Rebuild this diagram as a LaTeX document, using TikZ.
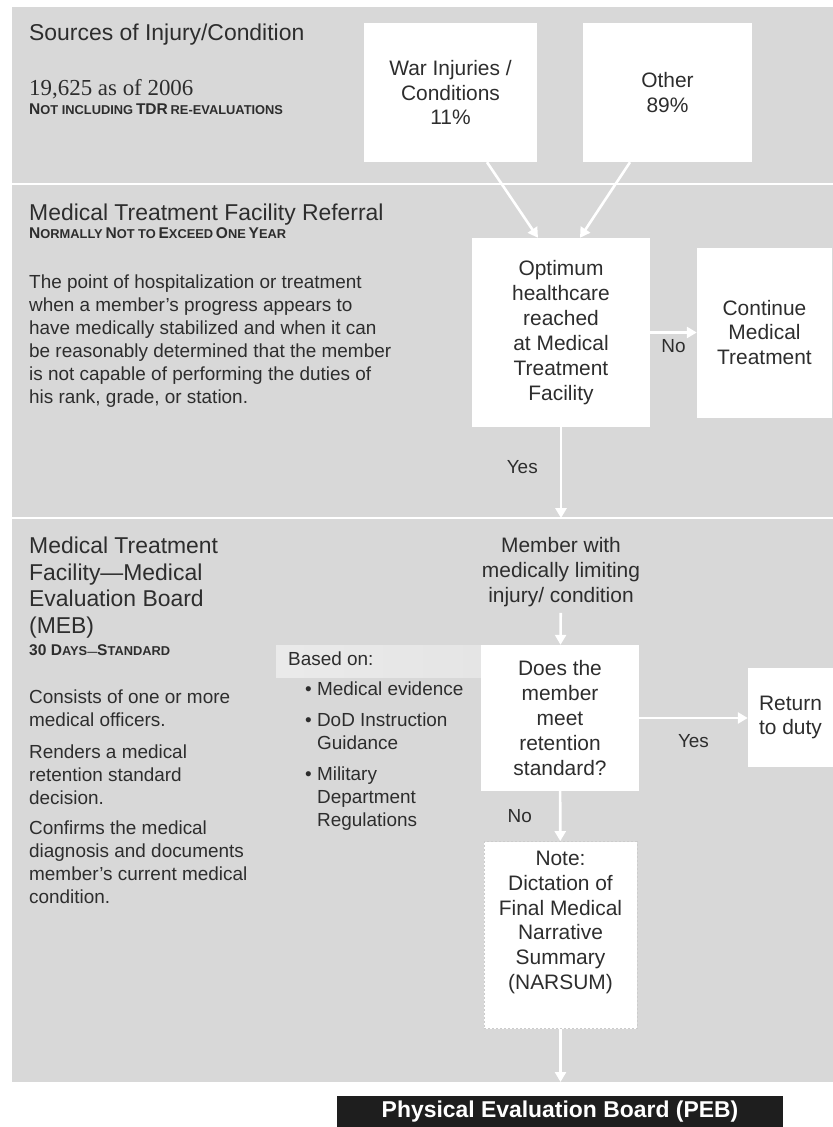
\documentclass[tikz,border=0pt]{standalone}
\usepackage{fontspec}
\setmainfont{Liberation Sans}
\newfontfamily\timesface{Liberation Serif}
\usetikzlibrary{arrows.meta, positioning}
\definecolor{panelgray}{RGB}{216,216,216}
\definecolor{basedgray}{RGB}{229,229,229}
\definecolor{inkgray}{RGB}{45,45,45}
\definecolor{pebblack}{RGB}{30,30,30}
\newcommand{\capL}[1]{{\fontsize{15.6}{17}\selectfont #1}}
\newcommand{\capS}[1]{{\fontsize{12.9}{17}\selectfont #1}}

\begin{document}
\begin{tikzpicture}[x=1bp, y=-1bp,
    box/.style={fill=white, align=center, text=inkgray, font=\fontsize{21}{25}\selectfont, inner sep=0pt},
    notebox/.style={fill=white, draw=gray!40, dash pattern=on 2bp off 2bp, line width=0.8bp},
    heading/.style={anchor=north west, align=left, text=inkgray, inner sep=0pt, font=\fontsize{23}{26.5}\selectfont},
    subhead/.style={anchor=north west, inner sep=0pt, text=inkgray, font=\bfseries},
    para/.style={anchor=north west, align=left, text=inkgray, inner sep=0pt, font=\fontsize{19}{23}\selectfont},
    flow/.style={-{Triangle[length=10bp,width=11bp]}, draw=white, line width=2.6bp},
    lbl/.style={text=inkgray, font=\fontsize{19}{23}\selectfont, inner sep=0pt},
]
\useasboundingbox (0,0) rectangle (833,1127);

% panels
\fill[panelgray] (12,7) rectangle (833,1082);
\draw[white, line width=1.6bp] (12,184) -- (833,184);
\draw[white, line width=1.6bp] (12,518) -- (833,518);
\shade[left color=basedgray!80!white, right color=basedgray] (276,645) rectangle (482,677);

% left column
\node[heading] (srchead) at (29,24) {Sources of Injury/Condition};
\node[anchor=north west, inner sep=0pt, text=inkgray, font=\timesface\fontsize{23}{26}\selectfont] (srccount) at (29,79) {19,625 as of 2006};
\node[subhead] (srcnote) at (29,104) {\capL{N}\capS{OT INCLUDING} \capL{TDR} \capS{RE-EVALUATIONS}};

\node[heading] (reflhead) at (29,204) {Medical Treatment Facility Referral};
\node[subhead] (reflnote) at (29,227) {\capL{N}\capS{ORMALLY} \capL{N}\capS{OT TO} \capL{E}\capS{XCEED} \capL{O}\capS{NE} \capL{Y}\capS{EAR}};
\node[para] (refltext) at (29,275) {The point of hospitalization or treatment\\when a member’s progress appears to\\have medically stabilized and when it can\\be reasonably determined that the member\\is not capable of performing the duties of\\his rank, grade, or station.};

\node[heading] (mebhead) at (29,537) {Medical Treatment\\Facility—Medical\\Evaluation Board\\(MEB)};
\node[subhead] (mebnote) at (29,644) {\capL{30 D}\capS{AYS}—\capL{S}\capS{TANDARD}};
\node[para] (mebtext1) at (29,690) {Consists of one or more\\medical officers.};
\node[para] (mebtext2) at (29,745) {Renders a medical\\retention standard\\decision.};
\node[para] (mebtext3) at (29,821) {Confirms the medical\\diagnosis and documents\\member’s current medical\\condition.};

\node[para] (basedon) at (288,652) {Based on:};
\node[para] (basis) at (305,682) {• Medical evidence\\[8bp]• DoD Instruction\\\phantom{• }Guidance\\[8bp]• Military\\\phantom{• }Department\\\phantom{• }Regulations};

% flow boxes
\node[box, minimum width=173bp, minimum height=139bp] (war) at (450.5,92.5) {War Injuries /\\Conditions\\11\%};
\node[box, minimum width=169bp, minimum height=139bp] (other) at (667.5,92.5) {Other\\89\%};
\node[box, minimum width=178bp, minimum height=189bp] (opt) at (561,332.5) {Optimum\\healthcare\\reached\\at Medical\\Treatment\\Facility};
\node[box, minimum width=135bp, minimum height=170bp] (cont) at (764.5,332.5) {Continue\\Medical\\Treatment};
\node[box, fill=none, inner sep=6bp] (member) at (561,572) {Member with\\medically limiting\\injury/ condition};
\node[box, minimum width=158bp, minimum height=146bp] (does) at (560,718) {Does the\\member\\meet\\retention\\standard?};
\node[box, minimum width=85bp, minimum height=99bp] (ret) at (790.5,717.5) {Return\\to duty};
\node[notebox, minimum width=153bp, minimum height=187bp] (note) at (560.5,935) {};
\node[box, fill=none] (notetext) at ([yshift=12.5bp]note.center) {Note:\\Dictation of\\Final Medical\\Narrative\\Summary\\(NARSUM)};
\node[fill=pebblack, text=white, font=\fontsize{23}{26}\selectfont\bfseries, minimum width=446bp, minimum height=31bp, inner sep=0pt] (peb) at (560,1111.5) {Physical Evaluation Board (PEB)};
\coordinate (panelend) at (560,1082);

% connectors
\draw[flow] ([xshift=36.5bp]war.south) -- ([xshift=-23bp]opt.north);
\draw[flow] ([xshift=-37.5bp]other.south) -- ([xshift=19bp]opt.north);
\draw[flow] (opt) -- (cont) node[lbl, midway, below=6bp] {No};
\draw[flow, shorten >=13bp] (opt) -- (member) node[lbl, pos=0.38, left=22bp] {Yes};
\draw[flow] (member) -- (does);
\draw[flow] (does.east) -- (does.east -| ret.west) node[lbl, midway, below=15bp] {Yes};
\draw[flow] (does) -- (note) node[lbl, midway, left=27bp] {No};
\draw[flow] (note.south) -- (note.south |- panelend);

\end{tikzpicture}
\end{document}
